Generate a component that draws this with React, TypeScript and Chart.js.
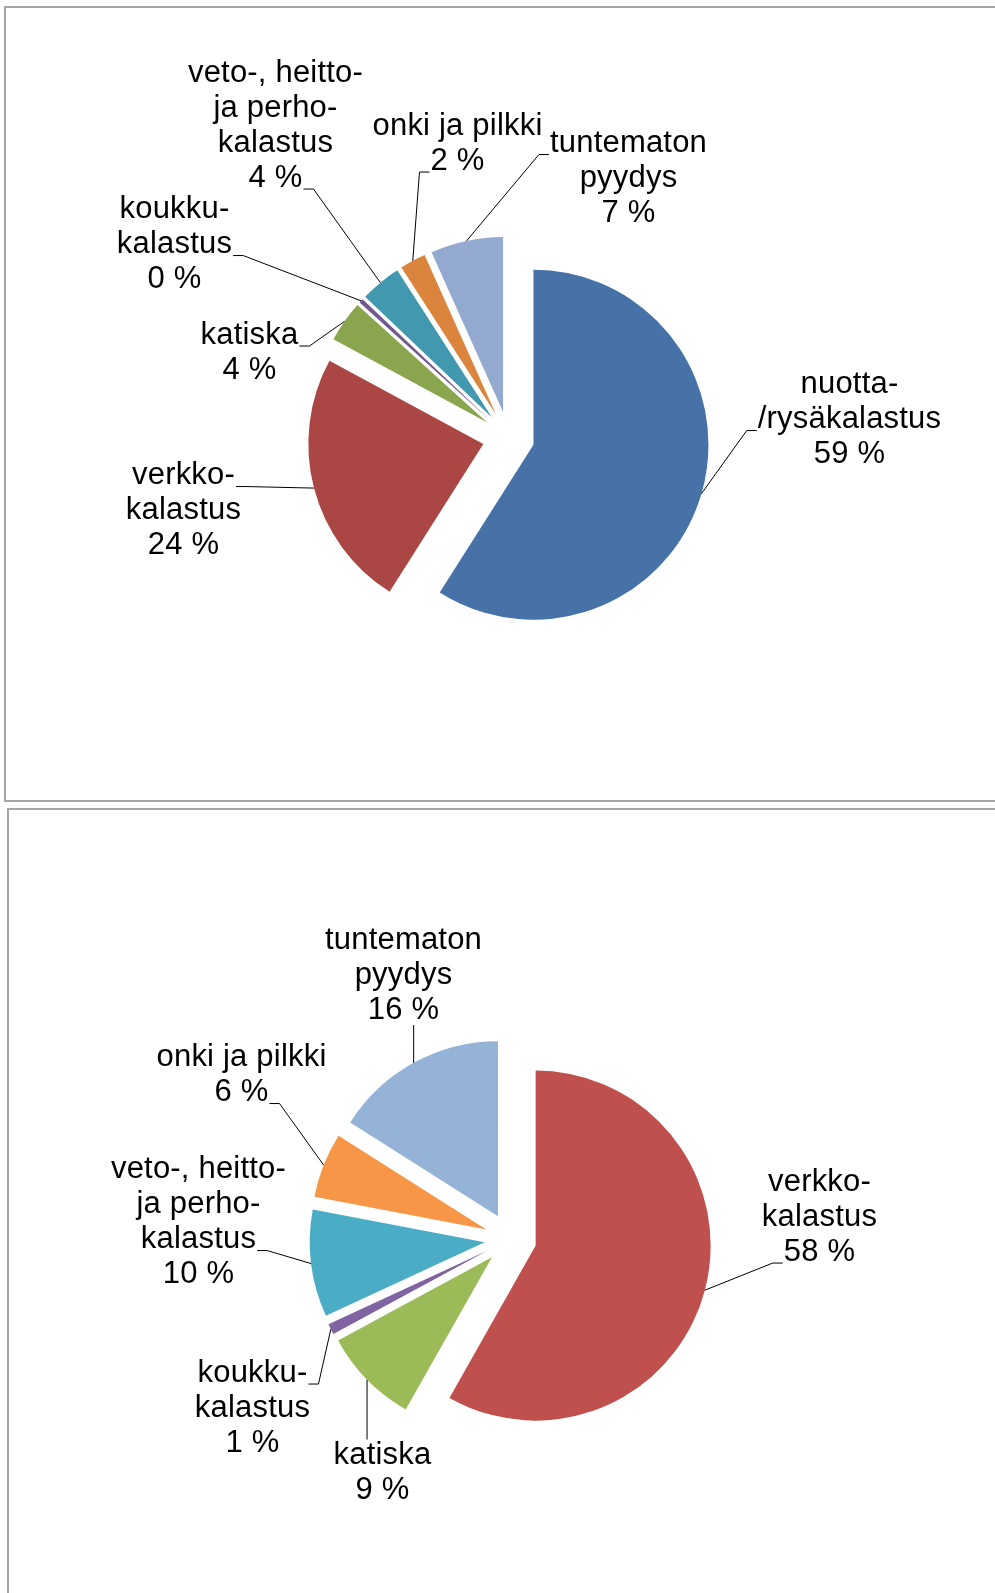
import React, { useEffect, useRef } from 'react';
import { Chart, registerables } from 'chart.js';

Chart.register(...registerables);

// ---------- Chart 1 data ----------
const categories1 = [
  'nuotta-/rysäkalastus',
  'verkkokalastus',
  'katiska',
  'koukkukalastus',
  'veto-, heitto- ja perhokalastus',
  'onki ja pilkki',
  'tuntematon pyydys',
];
const labelLines1 = [
  ['nuotta-', '/rysäkalastus'],
  ['verkko-', 'kalastus'],
  ['katiska'],
  ['koukku-', 'kalastus'],
  ['veto-, heitto-', 'ja perho-', 'kalastus'],
  ['onki ja pilkki'],
  ['tuntematon', 'pyydys'],
];
const values1 = [59.0, 23.9, 3.8, 0.4, 3.8, 2.4, 6.7];
const colors1 = ['#4672A8', '#AA4643', '#89A54E', '#71588F', '#4198AF', '#DB843D', '#93A9CF'];

// ---------- Chart 2 data ----------
const categories2 = [
  'verkkokalastus',
  'katiska',
  'koukkukalastus',
  'veto-, heitto- ja perhokalastus',
  'onki ja pilkki',
  'tuntematon pyydys',
];
const labelLines2 = [
  ['verkko-', 'kalastus'],
  ['katiska'],
  ['koukku-', 'kalastus'],
  ['veto-, heitto-', 'ja perho-', 'kalastus'],
  ['onki ja pilkki'],
  ['tuntematon', 'pyydys'],
];
const values2 = [58.2, 8.9, 1.0, 9.9, 6.0, 16.0];
const colors2 = ['#C0504D', '#9BBB59', '#8064A2', '#4BACC6', '#F79646', '#95B3D7'];

// ---------- label layout (relative to pie centre) ----------
const labelOffsets1 = [[341, -18], [-325, 73], [-259, -85], [-334, -193], [-233, -312], [-51, -294], [120, -259]];
const leaderAttach1: [string, number][] = [['left', 1], ['right', 0], ['right', 0], ['right', 1], ['right', 3], ['left', 1], ['left', 0]];
const labelOffsets2 = [[309, -22], [-128, 234], [-258, 169], [-312, -17], [-269, -164], [-107, -264]];
const leaderAttach2: [string, number][] = [['left', 2], ['top', 0], ['right', 0], ['right', 2], ['right', 1], ['bottom', 0]];

const FONT_SIZE = 31;
const LINE_H = 35;
const EXPLODE = 26;
const RADIUS = 175;

function makePlugins(lines: string[][], values: number[], offsets: number[][], attach: [string, number][]) {
  const explode = {
    id: 'explodeSlices',
    beforeDatasetDraw(chart: any, args: any) {
      const ctx = chart.ctx;
      args.meta.data.forEach((arc: any) => {
        const { startAngle, endAngle } = arc.getProps(['startAngle', 'endAngle'], true);
        const mid = (startAngle + endAngle) / 2;
        ctx.save();
        ctx.translate(Math.cos(mid) * EXPLODE, Math.sin(mid) * EXPLODE);
        arc.draw(ctx);
        ctx.restore();
      });
      return false;
    },
  };
  const labels = {
    id: 'pieLabels',
    afterDatasetsDraw(chart: any) {
      const ctx = chart.ctx;
      const meta = chart.getDatasetMeta(0);
      ctx.save();
      ctx.font = `${FONT_SIZE}px "Liberation Sans", Arial, sans-serif`;
      try { (ctx as any).letterSpacing = '0.2px'; } catch (e) { /* ignore */ }
      ctx.fillStyle = '#000000';
      ctx.strokeStyle = '#000000';
      ctx.lineWidth = 1;
      ctx.textAlign = 'center';
      ctx.textBaseline = 'middle';
      meta.data.forEach((arc: any, i: number) => {
        const { x, y, startAngle, endAngle, outerRadius } = arc.getProps(['x', 'y', 'startAngle', 'endAngle', 'outerRadius'], true);
        const mid = (startAngle + endAngle) / 2;
        const px = x + Math.cos(mid) * (outerRadius + EXPLODE);
        const py = y + Math.sin(mid) * (outerRadius + EXPLODE);
        const textLines = [...lines[i], `${Math.round(values[i])} %`];
        const n = textLines.length;
        const cx = x + offsets[i][0];
        const cy = y + offsets[i][1];
        const centers = textLines.map((_, k) => cy + (k - (n - 1) / 2) * LINE_H);
        textLines.forEach((t, k) => ctx.fillText(t, cx, centers[k]));
        const [side, li] = attach[i];
        ctx.beginPath();
        if (side === 'left' || side === 'right') {
          const w = ctx.measureText(textLines[li]).width;
          const by = centers[li] + FONT_SIZE * 0.34 + 0.5;
          const ax = side === 'left' ? cx - w / 2 - 1 : cx + w / 2 + 1;
          const sx = side === 'left' ? ax - 10 : ax + 10;
          ctx.moveTo(ax, by);
          ctx.lineTo(sx, by);
          ctx.lineTo(px, py);
        } else if (side === 'bottom') {
          ctx.moveTo(px, centers[n - 1] + 15);
          ctx.lineTo(px, py);
        } else {
          ctx.moveTo(px, centers[0] - 16);
          ctx.lineTo(px, py);
        }
        ctx.stroke();
      });
      ctx.restore();
    },
  };
  return [explode, labels];
}

function PieCanvas(props: {
  categories: string[]; values: number[]; colors: string[]; lines: string[][];
  offsets: number[][]; attach: [string, number][];
  width: number; height: number; left: number; top: number; padding: any;
}) {
  const ref = useRef<HTMLCanvasElement>(null);
  useEffect(() => {
    if (!ref.current) return;
    const chart = new Chart(ref.current, {
      type: 'pie',
      data: {
        labels: props.categories,
        datasets: [{
          data: props.values,
          backgroundColor: props.colors,
          borderWidth: 0,
          radius: RADIUS,
        } as any],
      },
      options: {
        responsive: false,
        animation: false,
        devicePixelRatio: 1,
        events: [],
        layout: { padding: props.padding },
        plugins: { legend: { display: false }, tooltip: { enabled: false } },
      } as any,
      plugins: makePlugins(props.lines, props.values, props.offsets, props.attach) as any,
    });
    return () => chart.destroy();
  }, []);
  return (
    <canvas
      ref={ref}
      width={props.width}
      height={props.height}
      style={{ position: 'absolute', left: props.left, top: props.top, width: props.width, height: props.height }}
    />
  );
}

export default function App() {
  return (
    <div style={{ position: 'absolute', left: 0, top: 0, width: 995, height: 1593, overflow: 'hidden', background: '#ffffff' }}>
      <div style={{ position: 'absolute', left: 4, top: 6, width: 1000, height: 796, boxSizing: 'border-box', border: '2px solid #a6a6a6' }} />
      <div style={{ position: 'absolute', left: 7, top: 808, width: 1000, height: 900, boxSizing: 'border-box', border: '2px solid #a6a6a6' }} />
      <PieCanvas
        categories={categories1} values={values1} colors={colors1} lines={labelLines1}
        offsets={labelOffsets1} attach={leaderAttach1}
        width={995} height={800} left={0} top={0}
        padding={{ left: 22, right: 0, top: 75, bottom: 0 }}
      />
      <PieCanvas
        categories={categories2} values={values2} colors={colors2} lines={labelLines2}
        offsets={labelOffsets2} attach={leaderAttach2}
        width={995} height={793} left={0} top={800}
        padding={{ left: 26, right: 0, top: 85, bottom: 0 }}
      />
    </div>
  );
}
